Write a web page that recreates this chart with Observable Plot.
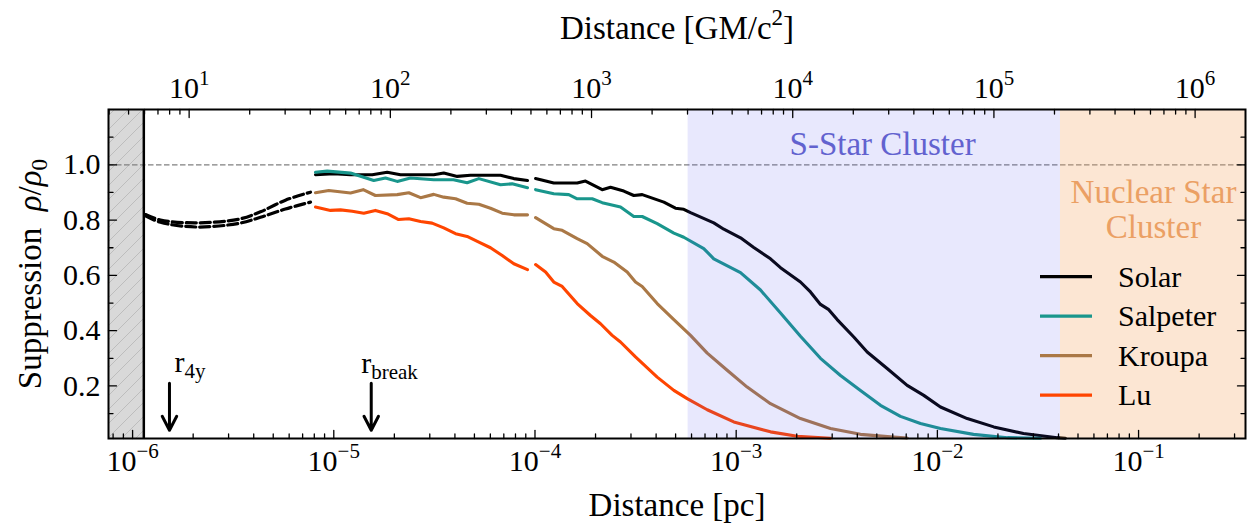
<!DOCTYPE html>
<html><head><meta charset="utf-8">
<script src="https://cdn.jsdelivr.net/npm/d3@7"></script>
<script src="https://cdn.jsdelivr.net/npm/@observablehq/plot@0.6"></script>
<style>body{margin:0;background:#fff}#chart{position:relative;width:1248px;height:525px}</style>
</head><body>
<svg width="0" height="0" style="position:absolute"><defs>
<pattern id="hatch" patternUnits="userSpaceOnUse" width="14" height="14">
<rect width="14" height="14" fill="#d9d9d9"/>
<path d="M-3.5,3.5 L3.5,-3.5 M0,14 L14,0 M10.5,17.5 L17.5,10.5" stroke="#bdbdbd" stroke-width="1"/>
</pattern></defs></svg>
<div id="chart"></div>
<script>
// ---------------- data ----------------
const seriesNames = ["Solar", "Salpeter", "Kroupa", "Lu"];
const seriesColors = ["#000000", "#19968c", "#aa7846", "#ff4500"];

// analytic (dashed) curves near the centre
const dashUpper = [[1.159e-6,.820],[1.376e-6,.800],[2.054e-6,.790],[3.36e-6,.803],[4.32e-6,.830],[5.75e-6,.872],[7.66e-6,.901]];
const dashLower = [[1.159e-6,.815],[1.376e-6,.792],[2.054e-6,.775],[3.36e-6,.788],[4.32e-6,.810],[5.75e-6,.840],[7.66e-6,.865]];

// simulated curves, inner part
const solarA = [[8.11e-6,.964],[1.0e-5,.968],[1.211e-5,.964],[1.553e-5,.964],[1.843e-5,.973],[2.145e-5,.964],[3.14e-5,.964],[3.52e-5,.970],[4.11e-5,.958],[4.78e-5,.962],[6.74e-5,.962],[7.85e-5,.950],[9.18e-5,.943]];
const salpeterA = [[8.11e-6,.973],[9.27e-6,.977],[1.211e-5,.970],[1.58e-5,.943],[1.807e-5,.952],[2.066e-5,.940],[2.405e-5,.952],[3.14e-5,.946],[3.93e-5,.946],[4.60e-5,.935],[5.26e-5,.950],[6.74e-5,.928],[7.70e-5,.931],[9.18e-5,.917]];
const kroupaA = [[8.11e-6,.899],[9.44e-6,.907],[1.211e-5,.898],[1.40e-5,.910],[1.61e-5,.889],[2.066e-5,.892],[2.36e-5,.899],[2.70e-5,.881],[3.14e-5,.893],[3.52e-5,.883],[4.03e-5,.877],[4.60e-5,.861],[5.26e-5,.857],[6.01e-5,.843],[6.87e-5,.825],[7.85e-5,.819],[9.18e-5,.819]];
const luA = [[8.11e-6,.847],[9.63e-6,.835],[1.08e-5,.837],[1.235e-5,.832],[1.41e-5,.825],[1.61e-5,.835],[1.843e-5,.823],[2.10e-5,.802],[2.36e-5,.805],[2.70e-5,.795],[3.08e-5,.789],[3.52e-5,.772],[4.03e-5,.751],[4.60e-5,.741],[5.26e-5,.720],[6.01e-5,.700],[6.87e-5,.672],[7.85e-5,.642],[9.18e-5,.621]];

// simulated curves, outer part
const solarB = [[1.007e-4,.950],[1.24e-4,.934],[1.621e-4,.934],[1.782e-4,.941],[2.158e-4,.910],[2.373e-4,.919],[2.763e-4,.905],[3.098e-4,.889],[3.411e-4,.892],[4.37e-4,.865],[4.99e-4,.843],[5.49e-4,.839],[5.93e-4,.827],[7.74e-4,.790],[8.68e-4,.767],[1.051e-3,.736],[1.223e-3,.701],[1.481e-3,.660],[1.661e-3,.628],[2.087e-3,.576],[2.34e-3,.540],[2.624e-3,.495],[2.886e-3,.476],[3.177e-3,.440],[3.842e-3,.377],[4.478e-3,.323],[5.628e-3,.263],[7.078e-3,.202],[8.56e-3,.166],[1.036e-2,.124],[1.407e-2,.082],[1.907e-2,.052],[2.68e-2,.028],[3.94e-2,.013],[4.33e-2,.011]];
const salpeterB = [[1.007e-4,.910],[1.24e-4,.895],[1.472e-4,.892],[1.621e-4,.877],[1.924e-4,.877],[2.158e-4,.863],[2.661e-4,.847],[3.098e-4,.813],[3.411e-4,.813],[4.05e-4,.787],[4.90e-4,.753],[5.49e-4,.738],[6.90e-4,.697],[7.74e-4,.660],[1.051e-3,.610],[1.321e-3,.547],[1.661e-3,.464],[2.087e-3,.380],[2.624e-3,.300],[3.30e-3,.238],[4.148e-3,.184],[5.214e-3,.130],[6.556e-3,.090],[8.241e-3,.064],[1.036e-2,.046],[1.512e-2,.025],[2.23e-2,.013],[3.254e-2,.011]];
const kroupaB = [[1.007e-4,.809],[1.24e-4,.769],[1.365e-4,.763],[1.621e-4,.733],[1.817e-4,.715],[2.158e-4,.669],[2.464e-4,.648],[2.872e-4,.612],[3.159e-4,.576],[3.411e-4,.560],[4.05e-4,.498],[4.90e-4,.440],[5.93e-4,.383],[7.18e-4,.319],[9.02e-4,.257],[1.134e-3,.196],[1.481e-3,.136],[2.087e-3,.082],[2.943e-3,.046],[4.148e-3,.025],[5.85e-3,.016],[7.078e-3,.012]];
const luB = [[1.007e-4,.639],[1.129e-4,.612],[1.24e-4,.576],[1.365e-4,.560],[1.621e-4,.498],[1.887e-4,.455],[2.117e-4,.425],[2.419e-4,.383],[2.661e-4,.359],[3.159e-4,.305],[4.05e-4,.232],[4.90e-4,.184],[5.71e-4,.154],[7.18e-4,.114],[9.73e-4,.070],[1.481e-3,.034],[2.01e-3,.018],[2.943e-3,.011]];

// regions, markers, axes (pc)
const xDomain = [7.59e-7, 0.34];
const yDomain = [0.01, 1.2];
const innerBound = 1.137e-6;           // hatched excluded zone edge
const sStarSpan = [5.77e-4, 0.0409];
const nscSpan = [0.0409, 0.34];
const rg = 1.91e-7;                     // 1 GM/c^2 in pc
const markerNames = ["r_{4y}", "r_{break}"];
const markerX = [1.525e-6, 1.535e-5];
const arrowSpan = [0.21, 0.04];
const bottomExps = [-6, -5, -4, -3, -2, -1];
const topExps = [1, 2, 3, 4, 5, 6];
const yMajors = [0.2, 0.4, 0.6, 0.8, 1.0];
const yMinors = [0.1, 0.3, 0.5, 0.7, 0.9, 1.1];

// ---------------- build ----------------
const inDom = v => v >= xDomain[0] && v <= xDomain[1];
const bottomMajors = bottomExps.map(e => Math.pow(10, e));
const bottomMinors = [];
for (let k = -7; k <= 0; k++) for (let m = 2; m <= 9; m++) { const v = m * Math.pow(10, k); if (inDom(v)) bottomMinors.push(v); }
const topMajors = topExps.map(e => rg * Math.pow(10, e));
const topMinors = [];
for (let k = 0; k <= 6; k++) for (let m = 2; m <= 9; m++) { const v = rg * m * Math.pow(10, k); if (inDom(v)) topMinors.push(v); }

const solidSegs = [["Solar", "a", solarA], ["Salpeter", "a", salpeterA], ["Kroupa", "a", kroupaA], ["Lu", "a", luA],
                   ["Solar", "b", solarB], ["Salpeter", "b", salpeterB], ["Kroupa", "b", kroupaB], ["Lu", "b", luB]];
const lineRows = solidSegs.flatMap(([s, p, pts]) => pts.map(([x, y]) => ({series: s, seg: s + p, x, y})));
const dashRows = [["u", dashUpper], ["l", dashLower]].flatMap(([k, pts]) => pts.map(([x, y]) => ({seg: k, x, y})));
const markers = markerNames.map((n, i) => ({label: n, x: markerX[i], y1: arrowSpan[0], y2: arrowSpan[1]}));

const tickShape = {draw(ctx, l) { ctx.moveTo(0, 0); ctx.lineTo(0, -l); }};
const tk = (data, opts) => Plot.vector(data, {anchor: "start", shape: tickShape, stroke: "black", strokeWidth: 1.3, ...opts});
const MAJ = 8, MIN = 4.5;
const FONT = "'Liberation Serif', 'DejaVu Serif', serif";

const svg = Plot.plot({
  width: 1248, height: 525,
  marginLeft: 108, marginRight: 3, marginTop: 109, marginBottom: 87,
  style: {fontFamily: FONT, fontSize: "30px", color: "black", background: "white", overflow: "visible"},
  x: {type: "log", domain: xDomain},
  y: {domain: yDomain},
  color: {domain: seriesNames, range: seriesColors},
  marks: [
    Plot.rect([xDomain], {x1: d => d[0], x2: () => innerBound, fill: "url(#hatch)"}),
    Plot.ruleY([1], {stroke: "#808080", strokeWidth: 1.3, strokeDasharray: "5.5,2.5"}),
    Plot.line(dashRows, {x: "x", y: "y", z: "seg", stroke: "black", strokeWidth: 3.2, strokeDasharray: "10,4", curve: "catmull-rom"}),
    Plot.line(lineRows, {x: "x", y: "y", z: "seg", stroke: "series", strokeWidth: 3.1}),
    Plot.rect([sStarSpan], {x1: d => d[0], x2: d => d[1], fill: "#4a4af0", fillOpacity: 0.13}),
    Plot.rect([nscSpan], {x1: d => d[0], x2: d => d[1], fill: "#f4a460", fillOpacity: 0.28}),
    Plot.ruleX([innerBound], {stroke: "black", strokeWidth: 2.5}),
    Plot.arrow(markers, {x1: "x", x2: "x", y1: "y1", y2: "y2", stroke: "black", strokeWidth: 3, headLength: 8.5, headAngle: 55}),
    Plot.text([markers[0]], {x: "x", y: () => 0.25, text: "label", textAnchor: "start", lineAnchor: "bottom", dx: 5, fontSize: 30}),
    Plot.text([markers[1]], {x: "x", y: () => 0.25, text: "label", textAnchor: "start", lineAnchor: "bottom", dx: -10, dy: 1, fontSize: 30}),
    Plot.text(["S-Star Cluster"], {x: () => Math.sqrt(sStarSpan[0] * sStarSpan[1]) * 1.1, y: () => 1.034, text: d => d, lineAnchor: "bottom", fill: "#6262cf", fontSize: 33}),
    Plot.text(["Nuclear Star\nCluster"], {x: () => 0.1186, y: () => 0.734, text: d => d, lineAnchor: "bottom", lineHeight: 1.08, fill: "#eba064", fontSize: 33}),
    // ticks (inward)
    tk(bottomMajors, {x: d => d, frameAnchor: "bottom", length: MAJ, rotate: 0}),
    tk(bottomMinors, {x: d => d, frameAnchor: "bottom", length: MIN, rotate: 0}),
    tk(topMajors, {x: d => d, frameAnchor: "top", length: MAJ, rotate: 180}),
    tk(topMinors, {x: d => d, frameAnchor: "top", length: MIN, rotate: 180}),
    tk(yMajors, {y: d => d, frameAnchor: "left", length: MAJ, rotate: 90}),
    tk(yMinors, {y: d => d, frameAnchor: "left", length: MIN, rotate: 90}),
    tk(yMajors, {y: d => d, frameAnchor: "right", length: MAJ, rotate: -90}),
    tk(yMinors, {y: d => d, frameAnchor: "right", length: MIN, rotate: -90}),
    // tick labels
    Plot.axisX({anchor: "bottom", ticks: bottomMajors, tickSize: 0, tickPadding: 11, fontSize: 30, label: null,
      tickFormat: d => `10^{−${Math.round(-Math.log10(d))}}`}),
    Plot.axisX({anchor: "top", ticks: topMajors, tickSize: 0, tickPadding: 12, fontSize: 30, label: null,
      tickFormat: d => `10^{${Math.round(Math.log10(d / rg))}}`}),
    Plot.axisY({anchor: "left", ticks: yMajors, tickSize: 0, tickPadding: 8, fontSize: 30, label: null,
      tickFormat: d3.format(".1f")}),
    // titles
    Plot.text(["Distance [pc]"], {frameAnchor: "bottom", textAnchor: "middle", lineAnchor: "bottom", dy: 77, text: d => d, fontSize: 33}),
    Plot.text(["Distance [GM/c^{2}]"], {frameAnchor: "top", textAnchor: "middle", lineAnchor: "bottom", dy: -71, text: d => d, fontSize: 33}),
    Plot.text(["Suppression\u2002@{ρ}/@{ρ}_{0}"], {frameAnchor: "left", textAnchor: "middle", rotate: -90, lineAnchor: "bottom", dx: -68, text: d => d, fontSize: 33}),
    Plot.frame({stroke: "black", strokeWidth: 2})
  ]
});
document.getElementById("chart").appendChild(svg);

// legend
const lg = d3.select(svg).append("g").attr("font-family", FONT).attr("font-size", 30).attr("text-anchor", "start");
seriesNames.forEach((n, i) => {
  const y = 276.7 + i * 39.5;
  lg.append("line").attr("x1", 1040).attr("x2", 1092).attr("y1", y).attr("y2", y)
    .attr("stroke", seriesColors[i]).attr("stroke-width", 3.2);
  lg.append("text").attr("x", 1118).attr("y", y).attr("dy", "0.34em").attr("fill", "black")
    .attr("text-anchor", "start").text(n);
});

// rich text: ^{sup}, _{sub}, @{italic}
function rich(root) {
  const ns = "http://www.w3.org/2000/svg";
  root.querySelectorAll("text, tspan").forEach(el => {
    if (el.children.length) return;
    const s = el.textContent;
    if (!/[\^_@]\{/.test(s)) return;
    const fs = parseFloat(getComputedStyle(el).fontSize) || 30;
    el.textContent = "";
    const re = /([\^_@])\{([^}]*)\}|([^\^_@]+)/g;
    let m, off = 0;
    while ((m = re.exec(s))) {
      const t = document.createElementNS(ns, "tspan");
      let target = 0, size = null, italic = false, txt;
      if (m[3] !== undefined) txt = m[3];
      else if (m[1] === "^") { txt = m[2]; target = -0.42 * fs; size = 0.7 * fs; }
      else if (m[1] === "_") { txt = m[2]; target = 0.2 * fs; size = 0.7 * fs; }
      else { txt = m[2]; italic = true; }
      if (target !== off) t.setAttribute("dy", (target - off).toFixed(2));
      off = target;
      if (size) t.setAttribute("font-size", size.toFixed(1));
      if (italic) t.setAttribute("font-style", "italic");
      t.textContent = txt;
      el.appendChild(t);
    }
  });
}
rich(svg);
</script></body></html>
